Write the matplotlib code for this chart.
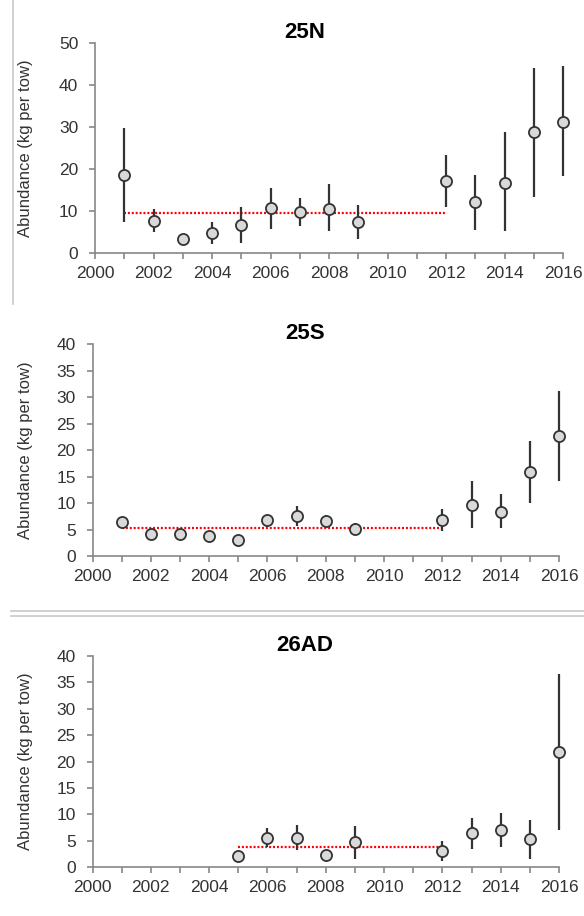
import matplotlib.pyplot as plt
from matplotlib.lines import Line2D

plt.rcParams['font.family'] = ['Liberation Sans', 'DejaVu Sans']

# 25N
years_n = [2001, 2002, 2003, 2004, 2005, 2006, 2007, 2008, 2009, 2012, 2013, 2014, 2015, 2016]
mean_n = [18.6, 7.8, 3.3, 4.9, 6.7, 10.7, 9.8, 10.6, 7.4, 17.1, 12.1, 16.8, 28.8, 31.3]
low_n = [7.5, 5.0, 2.6, 2.2, 2.5, 5.8, 6.6, 5.2, 3.3, 11.0, 5.6, 5.2, 13.3, 18.5]
high_n = [29.8, 10.5, 4.0, 7.5, 11.1, 15.5, 13.2, 16.4, 11.6, 23.5, 18.7, 28.8, 44.2, 44.5]
ref_n = 9.7

# 25S
years_s = [2001, 2002, 2003, 2004, 2005, 2006, 2007, 2008, 2009, 2012, 2013, 2014, 2015, 2016]
mean_s = [6.5, 4.1, 4.2, 3.8, 3.1, 6.8, 7.5, 6.7, 5.1, 6.8, 9.7, 8.4, 15.9, 22.7]
low_s = [5.6, 3.5, 3.6, 3.2, 2.6, 5.5, 5.7, 5.5, 4.0, 4.7, 5.3, 5.2, 10.1, 14.2]
high_s = [7.3, 4.7, 4.8, 4.4, 3.6, 7.7, 9.5, 7.7, 6.2, 8.9, 14.2, 11.7, 21.8, 31.2]
ref_s = 5.35

# 26AD
years_ad = [2005, 2006, 2007, 2008, 2009, 2012, 2013, 2014, 2015, 2016]
mean_ad = [2.1, 5.55, 5.55, 2.3, 4.7, 3.0, 6.4, 7.1, 5.4, 21.8]
low_ad = [1.6, 3.8, 3.3, 1.1, 1.6, 1.2, 3.4, 3.9, 1.6, 7.1]
high_ad = [2.6, 7.5, 8.0, 3.3, 7.8, 4.9, 9.3, 10.3, 9.0, 36.6]
ref_ad = 3.85

panels = [
    ('25N', years_n, mean_n, low_n, high_n, ref_n, (2001, 2012), 50, 10, [0.1627, 0.7235, 0.8014, 0.2293]),
    ('25S', years_s, mean_s, low_s, high_s, ref_s, (2001, 2012), 40, 5, [0.1584, 0.3930, 0.7990, 0.2311]),
    ('26AD', years_ad, mean_ad, low_ad, high_ad, ref_ad, (2005, 2012), 40, 5, [0.1584, 0.0532, 0.7990, 0.2306]),
]

fig = plt.figure(figsize=(5.84, 9.16), dpi=100)

for title, yrs, m, lo, hi, ref, span, ymax, ystep, pos in panels:
    ax = fig.add_axes(pos)
    ax.plot(span, [ref, ref], color='#ff0000', linestyle=(0, (0.9, 0.85)), linewidth=1.6, zorder=2)
    yerr = [[a - b for a, b in zip(m, lo)], [b - a for a, b in zip(m, hi)]]
    ax.errorbar(yrs, m, yerr=yerr, fmt='o', color='#333333', ecolor='#333333',
                elinewidth=1.6, capsize=0, markersize=8, markerfacecolor='#d9d9d9',
                markeredgecolor='#333333', markeredgewidth=1.3, zorder=3)
    ax.set_xlim(2000, 2016)
    ax.set_ylim(0, ymax)
    ax.set_xticks(range(2000, 2017, 2))
    ax.set_xticks(range(2000, 2017, 1), minor=True)
    ax.set_yticks(range(0, ymax + 1, ystep))
    for s in ['top', 'right']:
        ax.spines[s].set_visible(False)
    for s in ['left', 'bottom']:
        ax.spines[s].set_color('#888888')
        ax.spines[s].set_linewidth(1.2)
    ax.tick_params(axis='both', which='both', colors='#888888', width=1.2, labelcolor='#333333',
                   labelsize=12.5)
    ax.tick_params(axis='x', which='both', length=4, pad=5)
    ax.tick_params(axis='y', length=4, pad=8)
    ax.set_ylabel('Abundance (kg per tow)', fontsize=12, color='#333333')
    left_px = pos[0] * 584
    ax.yaxis.set_label_coords((33 - left_px) / (pos[2] * 584), 0.5)
    ax.set_title(title, fontsize=16, fontweight='bold', x=(305 - left_px) / (pos[2] * 584), pad=3)
    for art in ax.get_children():
        try:
            art.set_clip_on(False)
        except Exception:
            pass

# separator lines
fig.add_artist(Line2D([13 / 584, 13 / 584], [1 - 0 / 916, 1 - 304 / 916], color='#c8c8c8', linewidth=1.2))
fig.add_artist(Line2D([11 / 584, 1], [1 - 611 / 916, 1 - 611 / 916], color='#c8c8c8', linewidth=1.2))
fig.add_artist(Line2D([11 / 584, 1], [1 - 616 / 916, 1 - 616 / 916], color='#c8c8c8', linewidth=1.2))

fig.savefig('out.png', dpi=100)
